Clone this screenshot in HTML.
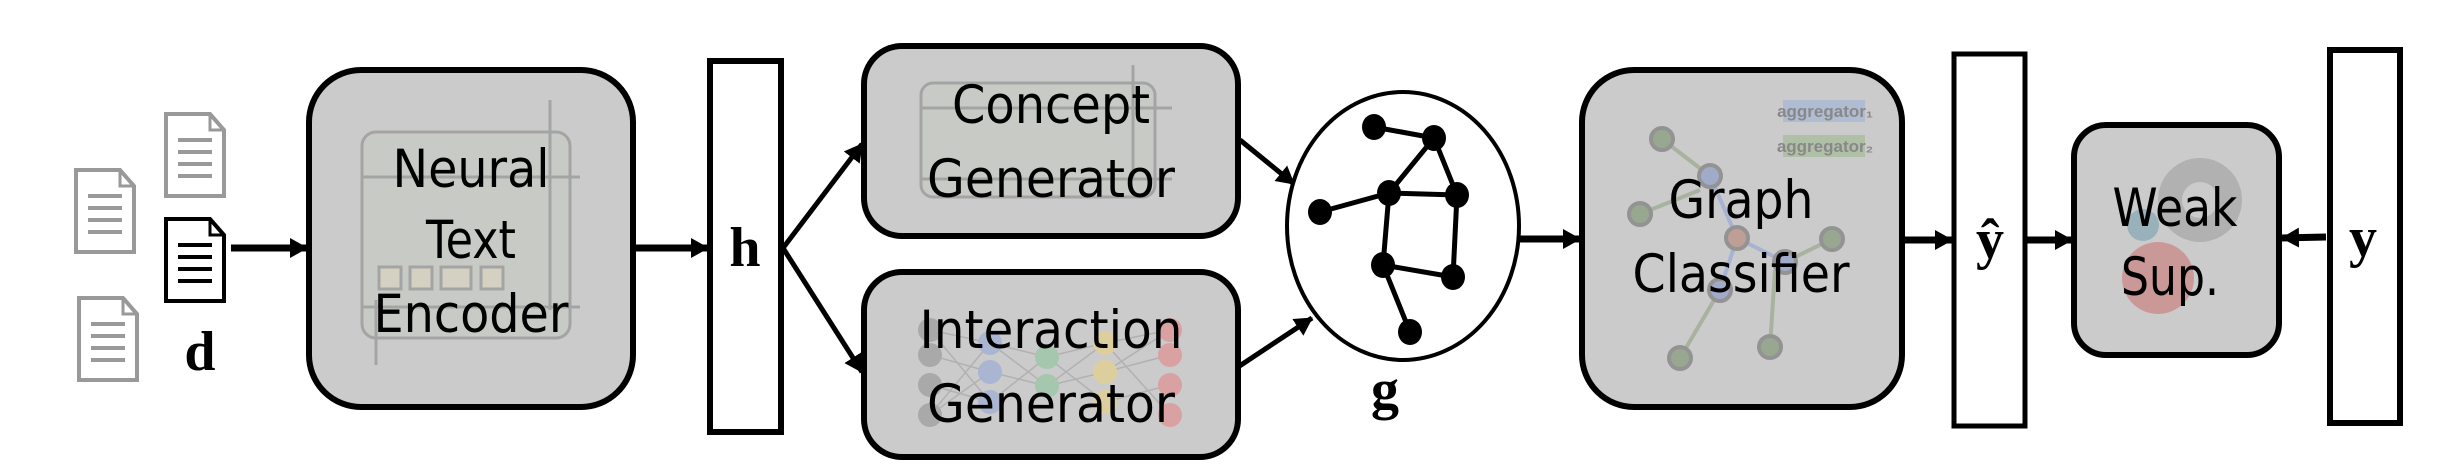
<!DOCTYPE html>
<html><head><meta charset="utf-8"><style>
html,body{margin:0;padding:0;background:#fff}
svg{display:block}
.t{font-family:"DejaVu Sans","Liberation Sans",sans-serif;font-size:53px;fill:#000;text-anchor:middle}
.m{font-family:"Liberation Serif",serif;font-weight:bold;font-size:56px;fill:#000;text-anchor:middle}
</style></head><body>
<svg width="2456" height="464" viewBox="0 0 2456 464" xmlns="http://www.w3.org/2000/svg">
<defs>
<marker id="a" markerWidth="18" markerHeight="20" refX="17" refY="10" orient="auto" markerUnits="userSpaceOnUse"><path d="M0,0 L18,10 L0,20 Z" fill="#000"/></marker>
<g id="doc"><path d="M0,0 H44 L58,16 V82 H0 Z" fill="#fff" stroke-width="4"/><path d="M44,0 V16 H58" fill="none" stroke-width="3"/><path d="M12,26 H46 M12,38 H46 M12,50 H46 M12,62 H46" stroke-width="4"/></g>
</defs>
<!-- docs -->
<g stroke="#999" fill="none"><use href="#doc" x="76" y="170"/><use href="#doc" x="166" y="114"/><use href="#doc" x="79" y="298"/></g>
<g stroke="#000" fill="none"><use href="#doc" x="166" y="219"/></g>
<text class="m" x="200" y="370">d</text>
<line x1="231" y1="248" x2="307" y2="248" stroke="#000" stroke-width="7" marker-end="url(#a)"/>
<!-- encoder -->
<rect x="309" y="70" width="324" height="337" rx="52" fill="#cbcbcb" stroke="#000" stroke-width="6"/>
<g opacity="0.45" stroke="#777" fill="none" stroke-width="3">
<rect x="362" y="132" width="208" height="206" rx="14" fill="#c6cbbf"/>
<line x1="362" y1="177" x2="580" y2="177"/><line x1="362" y1="307" x2="580" y2="307"/>
<line x1="550" y1="100" x2="550" y2="310"/><line x1="376" y1="365" x2="376" y2="300"/>
<rect x="379" y="267" width="22" height="22" fill="#e0d8b8"/><rect x="410" y="267" width="22" height="22" fill="#e0d8b8"/><rect x="441" y="267" width="30" height="22" fill="#e0d8b8"/><rect x="481" y="267" width="22" height="22" fill="#e0d8b8"/>
</g>
<text class="t" x="471" y="187" textLength="157" lengthAdjust="spacingAndGlyphs">Neural</text>
<text class="t" x="471" y="258" textLength="90" lengthAdjust="spacingAndGlyphs">Text</text>
<text class="t" x="471" y="332" textLength="195" lengthAdjust="spacingAndGlyphs">Encoder</text>
<line x1="635" y1="248" x2="708" y2="248" stroke="#000" stroke-width="7" marker-end="url(#a)"/>
<!-- h -->
<rect x="710" y="61" width="71" height="371" fill="#fff" stroke="#000" stroke-width="6"/>
<text class="m" x="745" y="266">h</text>
<line x1="783" y1="248" x2="862" y2="144" stroke="#000" stroke-width="5" marker-end="url(#a)"/>
<line x1="783" y1="248" x2="862" y2="372" stroke="#000" stroke-width="5" marker-end="url(#a)"/>
<!-- concept -->
<rect x="864" y="46" width="374" height="190" rx="38" fill="#cbcbcb" stroke="#000" stroke-width="6"/>
<g opacity="0.45" stroke="#777" fill="none" stroke-width="3">
<rect x="921" y="83" width="234" height="114" rx="12" fill="#c6cbbf"/>
<line x1="921" y1="108" x2="1172" y2="108"/><line x1="921" y1="179" x2="1172" y2="179"/><line x1="1133" y1="65" x2="1133" y2="180"/>
</g>
<text class="t" x="1051" y="123" textLength="198" lengthAdjust="spacingAndGlyphs">Concept</text>
<text class="t" x="1051" y="197" textLength="248" lengthAdjust="spacingAndGlyphs">Generator</text>
<!-- interaction -->
<rect x="864" y="272" width="374" height="185" rx="38" fill="#cbcbcb" stroke="#000" stroke-width="6"/>
<g opacity="0.5">
<g stroke="#999" stroke-width="1.5" fill="none"><path d="M930,330 L990,343 L1047,357 L1105,343 L1170,330 M930,355 L990,372 L1047,386 L1105,372 L1170,355 M930,385 L990,402 L1047,357 L1105,402 L1170,385 M930,415 L990,343 L1047,386 L1105,343 L1170,415 M930,330 L990,402 M930,415 L990,372 M1105,372 L1170,330"/></g>
<g fill="#888"><circle cx="930" cy="330" r="12"/><circle cx="930" cy="355" r="12"/><circle cx="930" cy="385" r="12"/><circle cx="930" cy="415" r="12"/></g>
<g fill="#8aa0d8"><circle cx="990" cy="343" r="12"/><circle cx="990" cy="372" r="12"/><circle cx="990" cy="402" r="12"/></g>
<g fill="#7fc592"><circle cx="1047" cy="357" r="12"/><circle cx="1047" cy="386" r="12"/></g>
<g fill="#f0d470"><circle cx="1105" cy="343" r="12"/><circle cx="1105" cy="372" r="12"/><circle cx="1105" cy="402" r="12"/></g>
<g fill="#e87878"><circle cx="1170" cy="330" r="12"/><circle cx="1170" cy="355" r="12"/><circle cx="1170" cy="385" r="12"/><circle cx="1170" cy="415" r="12"/></g>
</g>
<text class="t" x="1051" y="348" textLength="263" lengthAdjust="spacingAndGlyphs">Interaction</text>
<text class="t" x="1051" y="422" textLength="248" lengthAdjust="spacingAndGlyphs">Generator</text>
<line x1="1240" y1="140" x2="1294" y2="184" stroke="#000" stroke-width="5" marker-end="url(#a)"/>
<line x1="1238" y1="367" x2="1312" y2="318" stroke="#000" stroke-width="5" marker-end="url(#a)"/>
<!-- graph -->
<ellipse cx="1403" cy="226" rx="116" ry="134" fill="#fff" stroke="#000" stroke-width="4"/>
<g stroke="#000" stroke-width="5" fill="none"><path d="M1374,127 L1434,138 L1389,193 M1434,138 L1457,195 M1389,193 L1457,195 M1389,193 L1320,212 M1389,193 L1383,265 M1457,195 L1453,277 M1383,265 L1453,277 M1383,265 L1410,332"/></g>
<g fill="#000"><ellipse cx="1374" cy="127" rx="12" ry="13"/><ellipse cx="1434" cy="138" rx="12" ry="13"/><ellipse cx="1389" cy="193" rx="12" ry="13"/><ellipse cx="1457" cy="195" rx="12" ry="13"/><ellipse cx="1320" cy="212" rx="12" ry="13"/><ellipse cx="1383" cy="265" rx="12" ry="13"/><ellipse cx="1453" cy="277" rx="12" ry="13"/><ellipse cx="1410" cy="332" rx="12" ry="13"/></g>
<text class="m" x="1385" y="408">g</text>
<line x1="1519" y1="239" x2="1580" y2="239" stroke="#000" stroke-width="7" marker-end="url(#a)"/>
<!-- classifier -->
<rect x="1582" y="70" width="320" height="337" rx="52" fill="#cbcbcb" stroke="#000" stroke-width="6"/>
<g opacity="0.55">
<g stroke="#8aa07a" stroke-width="4"><path d="M1662,139 L1710,176 M1640,214 L1700,190 M1680,358 L1720,290 M1770,347 L1775,270 M1832,239 L1785,262"/></g>
<g stroke="#8aa0d8" stroke-width="4"><path d="M1710,176 L1737,238 M1720,290 L1737,238 M1785,262 L1737,238"/></g>
<g stroke="#666" stroke-width="4"><circle cx="1662" cy="139" r="11" fill="#6f8a5f"/><circle cx="1640" cy="214" r="11" fill="#6f8a5f"/><circle cx="1680" cy="358" r="11" fill="#6f8a5f"/><circle cx="1770" cy="347" r="11" fill="#6f8a5f"/><circle cx="1832" cy="239" r="11" fill="#6f8a5f"/><circle cx="1710" cy="176" r="11" fill="#7d90c8"/><circle cx="1720" cy="290" r="11" fill="#7d90c8"/><circle cx="1785" cy="262" r="11" fill="#7d90c8"/><circle cx="1737" cy="238" r="11" fill="#b57a6a"/></g>
<rect x="1783" y="100" width="82" height="22" fill="#9ab0d8"/><rect x="1783" y="135" width="82" height="22" fill="#9ab888"/>
</g>
<text x="1825" y="117" font-family="Liberation Sans,sans-serif" font-size="17" font-weight="bold" fill="#888" text-anchor="middle">aggregator₁</text>
<text x="1825" y="152" font-family="Liberation Sans,sans-serif" font-size="17" font-weight="bold" fill="#888" text-anchor="middle">aggregator₂</text>
<text class="t" x="1741" y="218" textLength="145" lengthAdjust="spacingAndGlyphs">Graph</text>
<text class="t" x="1741" y="292" textLength="217" lengthAdjust="spacingAndGlyphs">Classifier</text>
<line x1="1905" y1="240" x2="1952" y2="240" stroke="#000" stroke-width="7" marker-end="url(#a)"/>
<!-- yhat -->
<rect x="1954" y="54" width="71" height="372" fill="#fff" stroke="#000" stroke-width="5"/>
<text class="m" x="1990" y="258">ŷ</text>
<line x1="2027" y1="240" x2="2072" y2="240" stroke="#000" stroke-width="7" marker-end="url(#a)"/>
<!-- weak sup -->
<rect x="2074" y="125" width="205" height="230" rx="32" fill="#cbcbcb" stroke="#000" stroke-width="6"/>
<g opacity="0.5"><circle cx="2200" cy="200" r="42" fill="#999"/><circle cx="2200" cy="200" r="18" fill="#cbcbcb"/><circle cx="2158" cy="278" r="36" fill="#c66"/><circle cx="2143" cy="225" r="16" fill="#69a"/></g>
<text class="t" x="2175" y="226" textLength="125" lengthAdjust="spacingAndGlyphs">Weak</text>
<text class="t" x="2170" y="295" textLength="98" lengthAdjust="spacingAndGlyphs">Sup.</text>
<line x1="2326" y1="237" x2="2282" y2="238" stroke="#000" stroke-width="7" marker-end="url(#a)"/>
<!-- y -->
<rect x="2330" y="50" width="70" height="373" fill="#fff" stroke="#000" stroke-width="6"/>
<text class="m" x="2363" y="256">y</text>
</svg>
</body></html>
